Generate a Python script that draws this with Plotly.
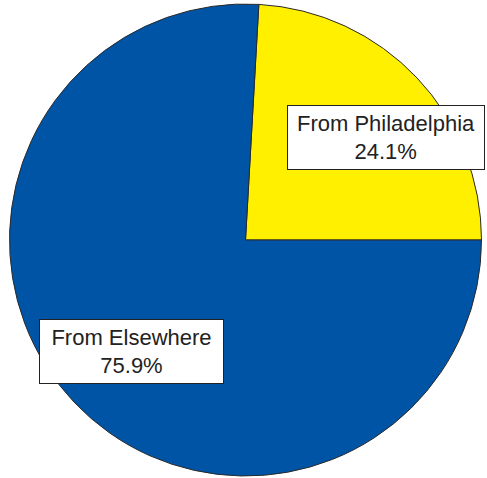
import plotly.graph_objects as go

labels = ["From Philadelphia", "From Elsewhere"]
values = [24.1, 75.9]
colors = ["#FFF000", "#0054A6"]

# label box centres (paper coords) and sizes (px)
box_x = [0.7926, 0.270]
box_y = [0.7123, 0.2636]
box_w = [196, 183]
box_h = [63, 63]

W, H = 487, 478

fig = go.Figure()
fig.add_trace(go.Pie(
    labels=labels,
    values=values,
    sort=False,
    direction="clockwise",
    rotation=90 - 360 * values[0] / 100.0,
    marker=dict(colors=colors, line=dict(color="#2a2a2a", width=1)),
    textinfo="none",
    hoverinfo="label+percent",
    showlegend=False,
    domain=dict(x=[8 / W, 483 / W], y=[1 - 476 / H, 1 - 4 / H]),
))

total = sum(values)
for i, lab in enumerate(labels):
    pct = values[i] / total * 100
    fig.add_annotation(
        x=box_x[i], y=box_y[i], xref="paper", yref="paper",
        xanchor="center", yanchor="middle",
        text=f"{lab}<br>{pct:.1f}%",
        showarrow=False,
        align="center",
        width=box_w[i], height=box_h[i],
        bgcolor="white", bordercolor="#222222", borderwidth=1, borderpad=0,
        font=dict(family="Liberation Sans, Arial, sans-serif", size=22, color="#222222"),
    )

fig.update_layout(
    width=W, height=H,
    margin=dict(l=0, r=0, t=0, b=0),
    paper_bgcolor="white",
    plot_bgcolor="white",
)

fig.write_html("out.html", config={"displayModeBar": False},
               post_script="document.body.style.margin='0';")
